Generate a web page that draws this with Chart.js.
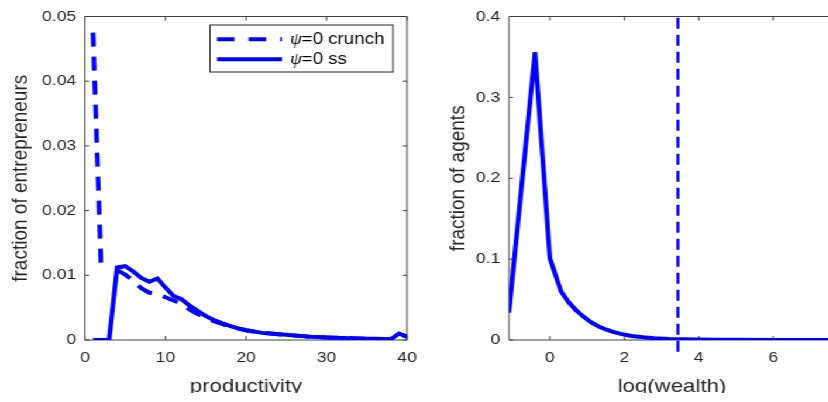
<!DOCTYPE html>
<html>
<head>
<meta charset="utf-8">
<script src="https://cdn.jsdelivr.net/npm/chart.js@4.4.0/dist/chart.umd.min.js"></script>
<style>
  html, body { margin: 0; padding: 0; background: #fff; overflow: hidden; }
  /* the original figure is a bit wider than tall-for-its-fonts, so stretch horizontally */
  #stage { position: absolute; left: 0; top: 0; width: 725px; height: 393px; overflow: hidden;
           transform: scaleX(1.17); transform-origin: 0 0; }
  .panel { position: absolute; top: 0; height: 402px; }
  #left { left: 0; width: 380px; }
  #right { left: 380px; width: 345px; }
</style>
</head>
<body>
<div id="stage">
  <div class="panel" id="left"><canvas id="prodChart"></canvas></div>
  <div class="panel" id="right"><canvas id="wealthChart"></canvas></div>
</div>
<script>
// left panel: distribution of entrepreneurs over productivity
const productivity = [1, 2, 3, 4, 5, 6, 7, 8, 9, 10, 11, 12, 13, 14, 15, 16, 17, 18, 19, 20,
  21, 22, 23, 24, 25, 26, 27, 28, 29, 30, 31, 32, 33, 34, 35, 36, 37, 38, 39, 40];
const crunchShare = [0.0475, 0.0115, null, 0.0108, 0.0101, 0.0092, 0.0080, 0.0073, 0.0071, 0.0066,
  0.0061, 0.0056, 0.0047, 0.0040, 0.0034, 0.0029, 0.0025, 0.0021, 0.0018, 0.0015,
  0.0013, 0.0011, 0.0010, 0.0009, 0.0008, 0.0007, 0.0006, 0.0005, 0.00045, 0.0004,
  0.00035, 0.0003, 0.00027, 0.00024, 0.0002, 0.00018, 0.00015, 0.00012, 0.0010, 0.0005];
const ssShare = [0, 0, 0, 0.0112, 0.0114, 0.0106, 0.0096, 0.0090, 0.0095, 0.0081,
  0.0068, 0.0063, 0.0053, 0.0045, 0.0037, 0.0031, 0.0026, 0.0022, 0.0018, 0.0015,
  0.0013, 0.0011, 0.0010, 0.0009, 0.0008, 0.0007, 0.0006, 0.0005, 0.00045, 0.0004,
  0.00035, 0.0003, 0.00027, 0.00024, 0.0002, 0.00018, 0.00015, 0.00012, 0.0010, 0.0005];
const prodTicks = [0, 10, 20, 30, 40];
const entTicks = [0, 0.01, 0.02, 0.03, 0.04, 0.05];
const legendLabels = ['=0 crunch', '=0 ss'];

// right panel: wealth distribution
const logWealth = [-1.1, -0.4, 0, 0.3, 0.5, 0.7, 0.9, 1.1, 1.3, 1.5, 1.7, 1.9, 2.2, 2.5,
  2.8, 3.2, 3.6, 4.0, 4.5, 5.0, 6.0, 7.0, 7.7];
const agentShare = [0.034, 0.356, 0.101, 0.060, 0.047, 0.037, 0.029, 0.022, 0.017, 0.013,
  0.010, 0.0075, 0.005, 0.0033, 0.0022, 0.0013, 0.0008, 0.0005, 0.0003, 0.0002, 0.0001, 0, 0];
const cutoffX = [3.44, 3.44];
const cutoffY = [-0.0145, 0.4];
const wealthTicks = [0, 2, 4, 6];
const agentTicks = [0, 0.1, 0.2, 0.3, 0.4];

const BLUE = '#0000ff';
const INK = '#262626';
const SANS = "'Liberation Sans', Arial, sans-serif";

const pts = (xs, ys) => xs.map((x, i) => ({x: x, y: ys[i]}));

// matlab style box with inward ticks, drawn under the data
const matlabAxes = {
  id: 'matlabAxes',
  beforeDatasetsDraw(chart) {
    const {ctx, chartArea: a, scales: {x, y}} = chart;
    ctx.save();
    ctx.strokeStyle = '#404040';
    ctx.lineWidth = 1;
    ctx.beginPath();
    ctx.rect(a.left, a.top, a.right - a.left, a.bottom - a.top);
    x.ticks.forEach(t => {
      const px = x.getPixelForValue(t.value);
      ctx.moveTo(px, a.bottom); ctx.lineTo(px, a.bottom - 4);
      ctx.moveTo(px, a.top); ctx.lineTo(px, a.top + 4);
    });
    y.ticks.forEach(t => {
      const py = y.getPixelForValue(t.value);
      ctx.moveTo(a.left, py); ctx.lineTo(a.left + 3.5, py);
      ctx.moveTo(a.right, py); ctx.lineTo(a.right - 3.5, py);
    });
    ctx.stroke();
    ctx.restore();
  }
};

// legend box like matlab's, with an italic psi
const psiLegend = {
  id: 'psiLegend',
  afterDatasetsDraw(chart) {
    const ctx = chart.ctx;
    const bx = 179.5, by = 25, bw = 156.4, bh = 47;
    ctx.save();
    ctx.fillStyle = '#fff';
    ctx.strokeStyle = INK;
    ctx.lineWidth = 1;
    ctx.fillRect(bx, by, bw, bh);
    ctx.strokeRect(bx, by, bw, bh);
    const rows = [39.3, 59.3];
    chart.data.datasets.forEach((ds, i) => {
      ctx.strokeStyle = BLUE;
      ctx.lineWidth = 4;
      ctx.setLineDash(ds.borderDash && ds.borderDash.length ? [15, 12] : []);
      ctx.beginPath();
      ctx.moveTo(185.5, rows[i]);
      ctx.lineTo(241, rows[i]);
      ctx.stroke();
      ctx.setLineDash([]);
      ctx.fillStyle = '#000';
      ctx.textBaseline = 'middle';
      ctx.font = "italic 16px 'Liberation Serif', serif";
      ctx.fillText('\u03c8', 247.9, rows[i]);
      const w = ctx.measureText('\u03c8').width;
      ctx.font = '16px ' + SANS;
      ctx.fillText(legendLabels[i], 247.9 + w, rows[i]);
    });
    ctx.restore();
  }
};

function fixTicks(values) {
  return scale => { scale.ticks = values.map(v => ({value: v})); };
}

function axisOptions(cfg) {
  return {
    type: 'linear',
    min: cfg.min,
    max: cfg.max,
    afterBuildTicks: fixTicks(cfg.ticks),
    afterFit: cfg.fit,
    grid: {display: false, drawTicks: false},
    border: {display: false},
    ticks: {
      color: INK,
      font: {family: SANS, size: 15},
      padding: cfg.pad,
      maxRotation: 0,
      autoSkip: false,
      callback: v => String(+v.toFixed(2))
    },
    title: {
      display: true,
      text: cfg.title,
      color: INK,
      font: {family: SANS, size: 19},
      padding: cfg.titlePad
    }
  };
}

new Chart(document.getElementById('prodChart'), {
  type: 'line',
  data: {
    datasets: [{
      label: 'psi=0 crunch',
      data: pts(productivity, crunchShare),
      borderColor: BLUE,
      borderWidth: 4,
      borderDash: [14, 10],
      pointRadius: 0,
      spanGaps: false,
      order: 1
    }, {
      label: 'psi=0 ss',
      data: pts(productivity, ssShare),
      borderColor: BLUE,
      borderWidth: 4,
      pointRadius: 0,
      order: 0
    }]
  },
  options: {
    responsive: true,
    maintainAspectRatio: false,
    animation: false,
    layout: {padding: {left: 0, top: 10, right: 32.1, bottom: 0}},
    plugins: {legend: {display: false}, tooltip: {enabled: false}},
    scales: {
      x: axisOptions({min: 0, max: 40, ticks: prodTicks, pad: 9, title: 'productivity',
        titlePad: {top: 0, bottom: 4.3}, fit: s => { s.height = 62; }}),
      y: axisOptions({min: 0, max: 0.05, ticks: entTicks, pad: 7.5, title: 'fraction of entrepreneurs',
        titlePad: {top: 6, bottom: 0}, fit: s => { s.width = 72.6; }})
    }
  },
  plugins: [matlabAxes, psiLegend]
});

new Chart(document.getElementById('wealthChart'), {
  type: 'line',
  data: {
    datasets: [{
      label: 'wealth',
      data: pts(logWealth, agentShare),
      borderColor: BLUE,
      borderWidth: 4,
      pointRadius: 0
    }, {
      label: 'cutoff',
      data: pts(cutoffX, cutoffY),
      borderColor: BLUE,
      borderWidth: 2.5,
      borderDash: [11, 6],
      pointRadius: 0,
      clip: false
    }]
  },
  options: {
    responsive: true,
    maintainAspectRatio: false,
    animation: false,
    layout: {padding: {left: 0, top: 10.5, right: 11.3, bottom: 0}},
    plugins: {legend: {display: false}, tooltip: {enabled: false}},
    scales: {
      x: axisOptions({min: -1.1, max: 7.66, ticks: wealthTicks, pad: 9, title: 'log(wealth)',
        titlePad: {top: 0, bottom: 4.3}, fit: s => { s.height = 62; }}),
      y: axisOptions({min: 0, max: 0.4, ticks: agentTicks, pad: 7.5, title: 'fraction of agents',
        titlePad: {top: 0.3, bottom: 0}, fit: s => { s.width = 55; }})
    }
  },
  plugins: [matlabAxes]
});
</script>
</body>
</html>
